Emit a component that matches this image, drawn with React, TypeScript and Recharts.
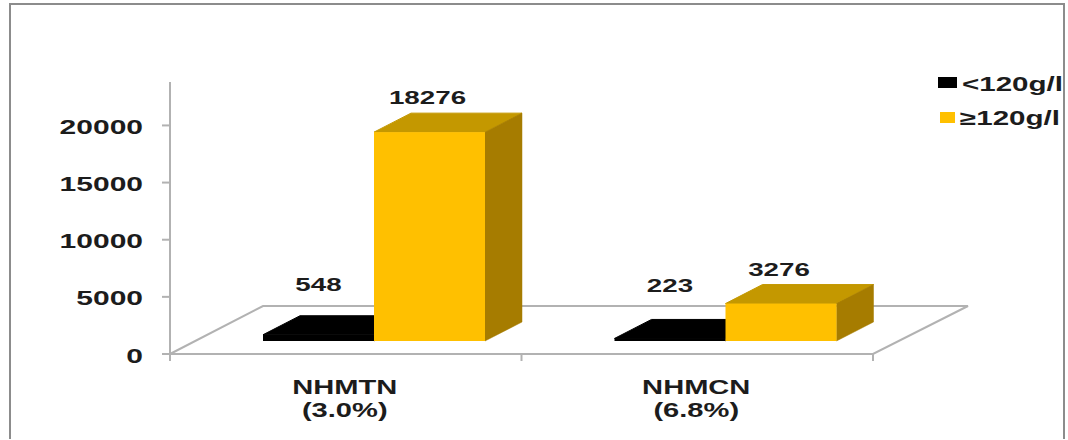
import { Bar, BarChart, LabelList, Legend, XAxis, YAxis } from "recharts";

const CATEGORIAS = ["NHMTN", "NHMCN"];
const PERCENTUAIS = ["(3.0%)", "(6.8%)"];
const ABAIXO = [548, 223];
const ACIMA = [18276, 3276];
const TICKS_Y = [0, 5000, 10000, 15000, 20000];

const dados = CATEGORIAS.map((nome, i) => ({ nome, abaixo: ABAIXO[i], acima: ACIMA[i] }));

const LARGURA = 1068;
const ALTURA = 440;
const AREA = { esquerda: 170, direita: 873, topo: 82, base: 354 };

// deslocamento da face frontal sobre o piso e profundidade das barras
const RECUO_X = 28;
const RECUO_Y = -13;
const PROF_X = 37;
const PROF_Y = -19;
const ESTICA = 1.5;
const COR_EIXO = "#b2b2b2";
const FONTE = "'Liberation Sans', Arial, sans-serif";

function TextoLargo({ x, y, anchor = "middle", size = 19.4, children }: any) {
  return (
    <text
      transform={`translate(${x} ${y}) scale(${ESTICA} 1)`}
      textAnchor={anchor}
      dominantBaseline="central"
      fontFamily={FONTE}
      fontWeight="bold"
      fontSize={size}
      fill="#1c1c1c"
    >
      {children}
    </text>
  );
}

function Barra3D({ x, y, width, height, fill, fillTopo, fillLado }: any) {
  const x0 = x + RECUO_X;
  const y0 = y + RECUO_Y;
  const x1 = x0 + width;
  const y1 = y0 + height;
  return (
    <g>
      <polygon
        points={`${x0},${y0} ${x1},${y0} ${x1 + PROF_X},${y0 + PROF_Y} ${x0 + PROF_X},${y0 + PROF_Y}`}
        fill={fillTopo}
        stroke={fillTopo}
        strokeWidth={1}
      />
      <polygon
        points={`${x1},${y0} ${x1 + PROF_X},${y0 + PROF_Y} ${x1 + PROF_X},${y1 + PROF_Y} ${x1},${y1}`}
        fill={fillLado}
        stroke={fillLado}
        strokeWidth={0.5}
      />
      <rect x={x0} y={y0} width={width} height={height} fill={fill} />
    </g>
  );
}

// subida e ajuste horizontal do rótulo, um valor por categoria
function rotuloValor(subidas: number[], ajusteX: number) {
  return ({ x, y, width, value, index }: any) => (
    <TextoLargo x={x + RECUO_X + width / 2 + ajusteX} y={y + RECUO_Y - subidas[index]} size={18.5}>
      {value}
    </TextoLargo>
  );
}

function TickCategoria({ x, index, payload, visibleTicksCount }: any) {
  const banda = (AREA.direita - AREA.esquerda) / (visibleTicksCount || CATEGORIAS.length);
  const ultima = index === CATEGORIAS.length - 1;
  return (
    <g>
      <line x1={x - banda / 2} x2={x - banda / 2} y1={AREA.base} y2={AREA.base + 7} stroke={COR_EIXO} strokeWidth={2} />
      {ultima && (
        <line x1={x + banda / 2} x2={x + banda / 2} y1={AREA.base} y2={AREA.base + 7} stroke={COR_EIXO} strokeWidth={2} />
      )}
      <TextoLargo x={x - 1} y={387.5}>
        {payload.value}
      </TextoLargo>
      <TextoLargo x={x - 1} y={410.5}>
        {PERCENTUAIS[index]}
      </TextoLargo>
    </g>
  );
}

function TickValor({ x, y, payload }: any) {
  return (
    <TextoLargo x={x} y={y + 1.5} anchor="end" size={20}>
      {payload.value}
    </TextoLargo>
  );
}

function Piso() {
  const { esquerda, direita, base } = AREA;
  return (
    <polygon
      points={`${esquerda},${base} ${direita},${base} 968,306 263,306`}
      fill="#fff"
      stroke={COR_EIXO}
      strokeWidth={2}
    />
  );
}

function Legenda({ payload }: any) {
  const linhas = payload ?? [];
  return (
    <svg width={138} height={70} style={{ display: "block" }}>
      {linhas.map((item: any, i: number) => (
        <g key={item.value}>
          <rect x={i === 0 ? 8 : 10} y={i === 0 ? 7 : 42} width={i === 0 ? 19 : 15} height={11} fill={item.color} />
          <TextoLargo x={i === 0 ? 32 : 30} y={i === 0 ? 14 : 48} anchor="start" size={19.7}>
            {item.value}
          </TextoLargo>
        </g>
      ))}
    </svg>
  );
}

export default function App() {
  return (
    <div style={{ position: "absolute", left: 0, top: 0, width: LARGURA, height: ALTURA, background: "#fff" }}>
      <div
        style={{
          position: "absolute",
          left: 9,
          top: 3,
          width: 1056,
          height: 436,
          borderTop: "2px solid #8c8c8c",
          borderLeft: "2px solid #8c8c8c",
          borderRight: "2px solid #8c8c8c",
          boxSizing: "border-box",
        }}
      />
      <BarChart
        width={LARGURA}
        height={ALTURA}
        data={dados}
        barGap={0}
        barCategoryGap={0}
        margin={{ top: AREA.topo, right: LARGURA - AREA.direita, bottom: 0, left: 0 }}
        style={{ position: "absolute", left: 0, top: 0 }}
      >
        <Piso />
        <XAxis
          dataKey="nome"
          height={ALTURA - AREA.base}
          interval={0}
          axisLine={{ stroke: COR_EIXO, strokeWidth: 2 }}
          tickLine={false}
          tick={<TickCategoria />}
        />
        <YAxis
          width={AREA.esquerda}
          domain={[0, 23800]}
          ticks={TICKS_Y}
          interval={0}
          axisLine={{ stroke: COR_EIXO, strokeWidth: 2 }}
          tickLine={{ stroke: COR_EIXO, strokeWidth: 2 }}
          tickSize={8}
          tickMargin={19}
          tick={<TickValor />}
        />
        <Legend
          layout="vertical"
          align="center"
          verticalAlign="middle"
          content={<Legenda />}
          wrapperStyle={{ left: 930, top: 70, width: 138, height: 70, margin: 0 }}
        />
        <Bar
          dataKey="abaixo"
          name="<120g/l"
          fill="#000000"
          barSize={111}
          isAnimationActive={false}
          shape={<Barra3D fillTopo="#000000" fillLado="#000000" />}
        >
          <LabelList dataKey="abaixo" content={rotuloValor([50, 53], 0)} />
        </Bar>
        <Bar
          dataKey="acima"
          name="≥120g/l"
          fill="#ffc000"
          barSize={111}
          isAnimationActive={false}
          shape={<Barra3D fillTopo="#c49800" fillLado="#a67c00" />}
        >
          <LabelList dataKey="acima" content={rotuloValor([34, 34], -2)} />
        </Bar>
      </BarChart>
    </div>
  );
}
